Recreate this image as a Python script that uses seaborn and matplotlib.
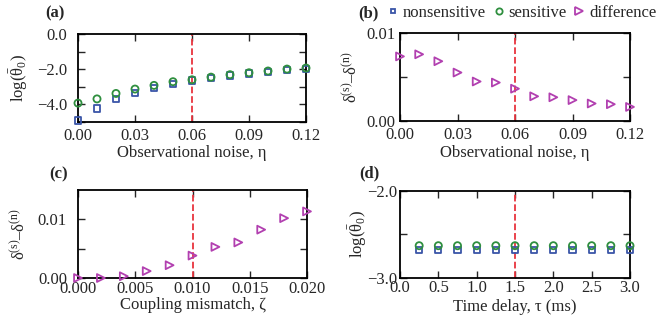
import numpy as np
import pandas as pd
import seaborn as sns
import matplotlib.pyplot as plt

# data
eta = [0.00, 0.01, 0.02, 0.03, 0.04, 0.05, 0.06, 0.07, 0.08, 0.09, 0.10, 0.11, 0.12]
a_nonsens = [-4.93, -4.25, -3.71, -3.37, -3.09, -2.84, -2.65, -2.50, -2.36, -2.25, -2.15, -2.04, -1.98]
a_sens = [-3.94, -3.70, -3.39, -3.14, -2.93, -2.72, -2.61, -2.46, -2.32, -2.21, -2.11, -2.00, -1.94]
b_diff = [0.00733, 0.00757, 0.00678, 0.00549, 0.00447, 0.00435, 0.00365, 0.00278,
          0.00267, 0.00235, 0.00196, 0.00188, 0.00157]

zeta = [0.000, 0.002, 0.004, 0.006, 0.008, 0.010, 0.012, 0.014, 0.016, 0.018, 0.020]
c_diff = [0.0, 0.0, 0.0003, 0.00118, 0.00218, 0.00382, 0.0053, 0.00606, 0.00824, 0.0102, 0.01135]

tau = [0.25, 0.5, 0.75, 1.0, 1.25, 1.5, 1.75, 2.0, 2.25, 2.5, 2.75, 3.0]
d_nonsens = [-2.68] * 12
d_sens = [-2.63] * 12

BLUE = '#3a55a8'
GREEN = '#2f8f3f'
MAGENTA = '#b240b0'
RED = '#e8343e'

sns.set_theme(style='ticks')
plt.rcParams['font.family'] = ['Liberation Serif', 'DejaVu Serif']
plt.rcParams['mathtext.fontset'] = 'custom'
plt.rcParams['mathtext.rm'] = 'Liberation Serif'
plt.rcParams['mathtext.it'] = 'Liberation Serif'
plt.rcParams['mathtext.bf'] = 'Liberation Serif:bold'
plt.rcParams['xtick.direction'] = 'in'
plt.rcParams['ytick.direction'] = 'in'
plt.rcParams['xtick.top'] = True
plt.rcParams['ytick.right'] = True
plt.rcParams['xtick.major.size'] = 5
plt.rcParams['ytick.major.size'] = 5
plt.rcParams['xtick.major.width'] = 1.0
plt.rcParams['ytick.major.width'] = 1.0
plt.rcParams['axes.linewidth'] = 1.3
plt.rcParams['axes.edgecolor'] = 'black'
plt.rcParams['font.size'] = 12

fig = plt.figure(figsize=(6.56, 3.25), dpi=100)
W, H = 656, 325


def add_ax(l, r, t, b):
    return fig.add_axes([l / W, 1 - b / H, (r - l) / W, (b - t) / H])


ax_a = add_ax(78, 306, 34, 121.7)
ax_b = add_ax(400, 630, 33, 120.7)
ax_c = add_ax(78, 307, 190, 278)
ax_d = add_ax(400, 630, 190.7, 278)


def open_scatter(ax, x, y, marker, color, size, label):
    sns.scatterplot(x=x, y=y, ax=ax, marker=marker, s=size, facecolor='none',
                    edgecolor=color, linewidth=1.3, label=label, clip_on=False,
                    zorder=3, legend=False)


def fmt_ticks(vals, labeled, fmt):
    return [(fmt.format(v).replace('-', '\u2212') if lab else '') for v, lab in zip(vals, labeled)]


ylab_theta = r'log($\bar{\theta}_0$)'
ylab_delta = 'δ$^{(s)}$\u2013δ$^{(n)}$'

# (a)
open_scatter(ax_a, eta, a_nonsens, 's', BLUE, 20, 'nonsensitive')
open_scatter(ax_a, eta, a_sens, 'o', GREEN, 26, 'sensitive')
ax_a.axvline(0.06, color=RED, ls='--', lw=1.3, zorder=2)
ax_a.set_xlim(0, 0.12)
ax_a.set_ylim(-5, 0)
xt = [0.0, 0.03, 0.06, 0.09, 0.12]
ax_a.set_xticks(xt, ['0.00', '0.03', '0.06', '0.09', '0.12'])
yt = [-5, -4, -3, -2, -1, 0]
ax_a.set_yticks(yt, fmt_ticks(yt, [False, True, False, True, False, True], '{:.1f}'))
ax_a.set_xlabel('Observational noise, \u03b7')
ax_a.set_ylabel(ylab_theta)

# (b)
open_scatter(ax_b, eta, b_diff, '>', MAGENTA, 32, 'difference')
ax_b.axvline(0.06, color=RED, ls='--', lw=1.3, zorder=2)
ax_b.set_xlim(0, 0.12)
ax_b.set_ylim(0, 0.01)
ax_b.set_xticks(xt, ['0.00', '0.03', '0.06', '0.09', '0.12'])
ax_b.set_yticks([0, 0.005, 0.01], ['0.00', '', '0.01'])
ax_b.set_xlabel('Observational noise, \u03b7')
ax_b.set_ylabel(ylab_delta)

# (c)
open_scatter(ax_c, zeta, c_diff, '>', MAGENTA, 32, 'difference')
ax_c.axvline(0.010, color=RED, ls='--', lw=1.3, zorder=2)
ax_c.set_xlim(0, 0.02)
ax_c.set_ylim(0, 0.015)
ax_c.set_xticks([0, 0.005, 0.01, 0.015, 0.02], ['0.000', '0.005', '0.010', '0.015', '0.020'])
ax_c.set_yticks([0, 0.005, 0.01], ['0.00', '', '0.01'])
ax_c.set_xlabel('Coupling mismatch, \u03b6')
ax_c.set_ylabel(ylab_delta)

# (d)
open_scatter(ax_d, tau, d_nonsens, 's', BLUE, 20, 'nonsensitive')
open_scatter(ax_d, tau, d_sens, 'o', GREEN, 26, 'sensitive')
ax_d.axvline(1.5, color=RED, ls='--', lw=1.3, zorder=2)
ax_d.set_xlim(0, 3)
ax_d.set_ylim(-3, -2)
ax_d.set_xticks(np.arange(0, 3.01, 0.5), [f'{v:.1f}' for v in np.arange(0, 3.01, 0.5)])
ax_d.set_yticks([-3, -2.5, -2], ['\u22123.0', '', '\u22122.0'])
ax_d.set_xlabel('Time delay, \u03c4 (ms)')
ax_d.set_ylabel(ylab_theta)

# per-panel tick pads and label positions (x pad, y pad, ylabel x, xlabel y)
tweaks = {
    ax_a: (4.5, 8, -0.2105, -0.265),
    ax_b: (4.5, 3.5, -0.1696, -0.275),
    ax_c: (2.5, 8, -0.218, -0.215),
    ax_d: (1.5, 2, -0.135, -0.235),
}
for ax, (xp, yp, ylx, xly) in tweaks.items():
    ax.tick_params(axis='x', pad=xp, labelsize=12)
    ax.tick_params(axis='y', pad=yp, labelsize=12)
    ax.yaxis.set_label_coords(ylx, 0.5)
    ax.xaxis.set_label_coords(0.5, xly)
    for sp in ax.spines.values():
        sp.set_visible(True)

# panel letters
for txt, x, y in [('(a)', 45, 13), ('(b)', 358, 13), ('(c)', 49, 174), ('(d)', 359, 173)]:
    fig.text(x / W, 1 - y / H, txt, fontsize=12, fontweight='bold', va='center', ha='left')

# legend
handles = [
    plt.Line2D([], [], ls='', marker='s', ms=3.5, mfc='none', mec=BLUE, mew=1.3),
    plt.Line2D([], [], ls='', marker='o', ms=4.5, mfc='none', mec=GREEN, mew=1.3),
    plt.Line2D([], [], ls='', marker='>', ms=5.5, mfc='none', mec=MAGENTA, mew=1.3),
]
fig.legend(handles, ['nonsensitive', 'sensitive', 'difference'], ncol=3,
           loc='center left', bbox_to_anchor=(388 / W, 1 - 13 / H), frameon=False,
           handlelength=0.6, handletextpad=0.3, columnspacing=0.45, fontsize=12,
           borderaxespad=0, borderpad=0)

fig.savefig('out.png', dpi=100)
